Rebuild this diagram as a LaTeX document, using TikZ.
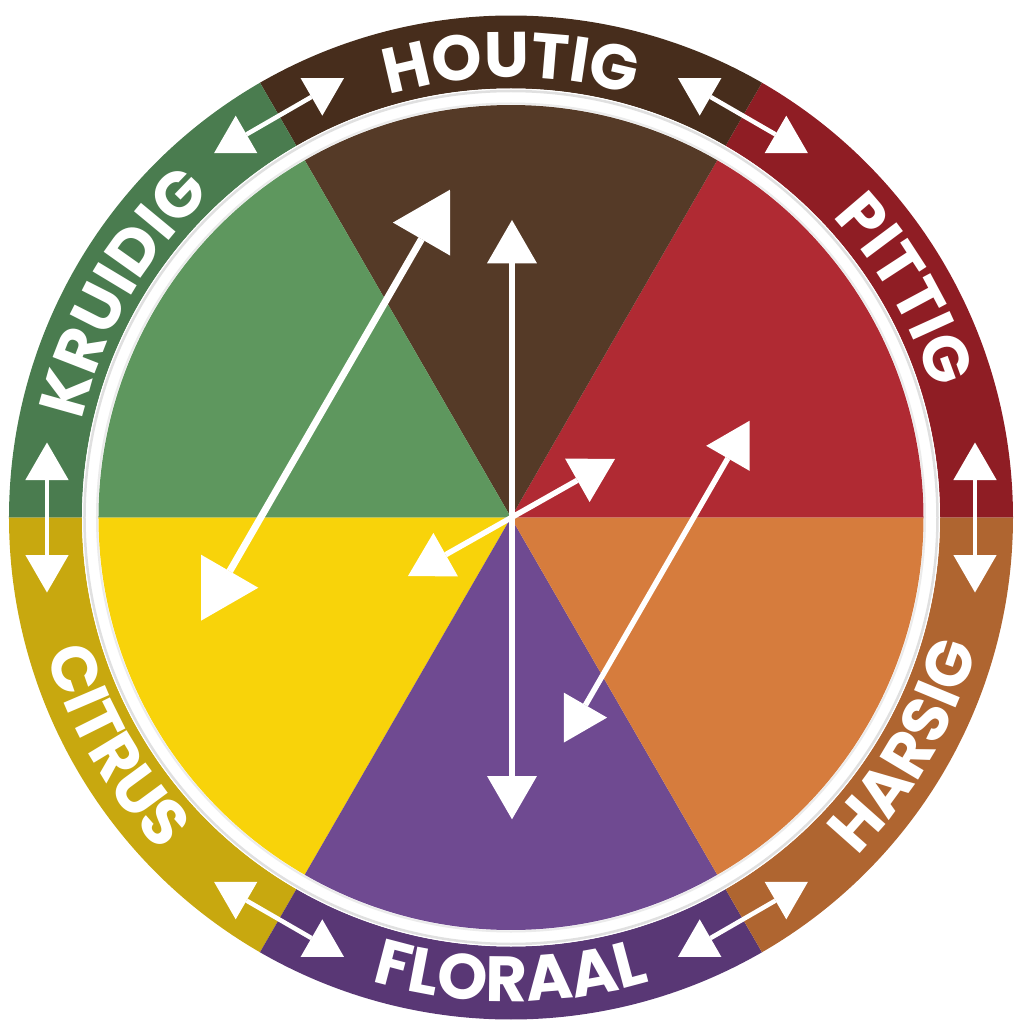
\documentclass[tikz,border=0pt]{standalone}
\usepackage{fontspec}
\newfontfamily\labelfont{Poppins Bold}
\usetikzlibrary{arrows.meta,decorations.text}
\definecolor{inBrown}{HTML}{553A27}
\definecolor{rgBrown}{HTML}{472D1C}
\definecolor{inRed}{HTML}{B02A33}
\definecolor{rgRed}{HTML}{8F1D24}
\definecolor{inOrange}{HTML}{D67C3D}
\definecolor{rgOrange}{HTML}{AF6530}
\definecolor{inPurple}{HTML}{6F4A91}
\definecolor{rgPurple}{HTML}{593775}
\definecolor{inYellow}{HTML}{F8D30A}
\definecolor{rgYellow}{HTML}{C8A80F}
\definecolor{inGreen}{HTML}{5E975E}
\definecolor{rgGreen}{HTML}{4A7C4F}
\tikzset{
  bigtip/.tip={Triangle[width=66pt,length=57pt,line width=0pt,fill=white]},
  midtip/.tip={Triangle[width=50pt,length=43.3pt,line width=0pt,fill=white]},
  smalltip/.tip={Triangle[width=43.3pt,length=37.5pt,line width=0pt,fill=white]},
  bigarrow/.style={color=white,line width=7pt,bigtip-bigtip},
  midarrow/.style={color=white,line width=5.5pt,midtip-midtip},
  ringarrow/.style={color=white,line width=4.5pt,smalltip-smalltip},
  ringlabel/.style={decorate,decoration={text along path,text align=center,text color=white,
     text={|\labelfont\fontsize{64}{64}\selectfont|#1}}}
}
\begin{document}
\begin{tikzpicture}
\useasboundingbox (-511pt,-505.5pt) rectangle (502pt,517.5pt);
% outer ring
\foreach \a/\c in {0/rgRed,60/rgBrown,120/rgGreen,180/rgYellow,240/rgPurple,300/rgOrange}{
  \fill[\c] (\a:429pt) -- (\a:502pt) arc[start angle=\a,delta angle=60,radius=502pt]
     -- ({\a+60}:429pt) arc[start angle=\a+60,delta angle=-60,radius=429pt] -- cycle;
}
% white band
\fill[white] (0,0) circle[radius=429pt];
\draw[black!12,line width=2.5pt] (0,0) circle[radius=426.5pt];
\draw[black!8,line width=2pt] (0,0) circle[radius=414pt];
% inner sectors
\foreach \a/\c in {0/inRed,60/inBrown,120/inGreen,180/inYellow,240/inPurple,300/inOrange}{
  \fill[\c] (0,0) -- (\a:412.5pt) arc[start angle=\a,delta angle=60,radius=412.5pt] -- cycle;
}
% labels
\path[ringlabel=HOUTIG] (150:440pt) arc[start angle=150,end angle=30,radius=440pt];
\path[ringlabel=PITTIG] (90:440pt) arc[start angle=90,end angle=-30,radius=440pt];
\path[ringlabel=KRUIDIG] (210:440pt) arc[start angle=210,end angle=90,radius=440pt];
\path[ringlabel=FLORAAL] (-150:484pt) arc[start angle=-150,end angle=-30,radius=484pt];
\path[ringlabel=HARSIG] (-90:484pt) arc[start angle=-90,end angle=30,radius=484pt];
\path[ringlabel=CITRUS] (150:484pt) arc[start angle=150,end angle=270,radius=484pt];
% ring arrows
\foreach \a in {0,60,120,180,240,300}{
  \coordinate (ra\a) at ([shift={(\a:464pt)}]\a+90:75pt);
  \coordinate (rb\a) at ([shift={(\a:464pt)}]\a-90:75pt);
  \draw[ringarrow] (ra\a) -- (rb\a);
}
% inner arrows
\coordinate (a1) at (-61pt,327.8pt);
\coordinate (a2) at (-309.8pt,-103.1pt);
\coordinate (b1) at (1pt,297.5pt);
\coordinate (b2) at (1pt,-301.8pt);
\coordinate (c1) at (104pt,58.5pt);
\coordinate (c2) at (-103pt,-58.5pt);
\coordinate (d1) at (238.5pt,96.7pt);
\coordinate (d2) at (52.8pt,-225.1pt);
\draw[bigarrow] (a1) -- (a2);
\draw[midarrow] (b1) -- (b2);
\draw[midarrow] (c1) -- (c2);
\draw[midarrow] (d1) -- (d2);
\end{tikzpicture}
\end{document}
